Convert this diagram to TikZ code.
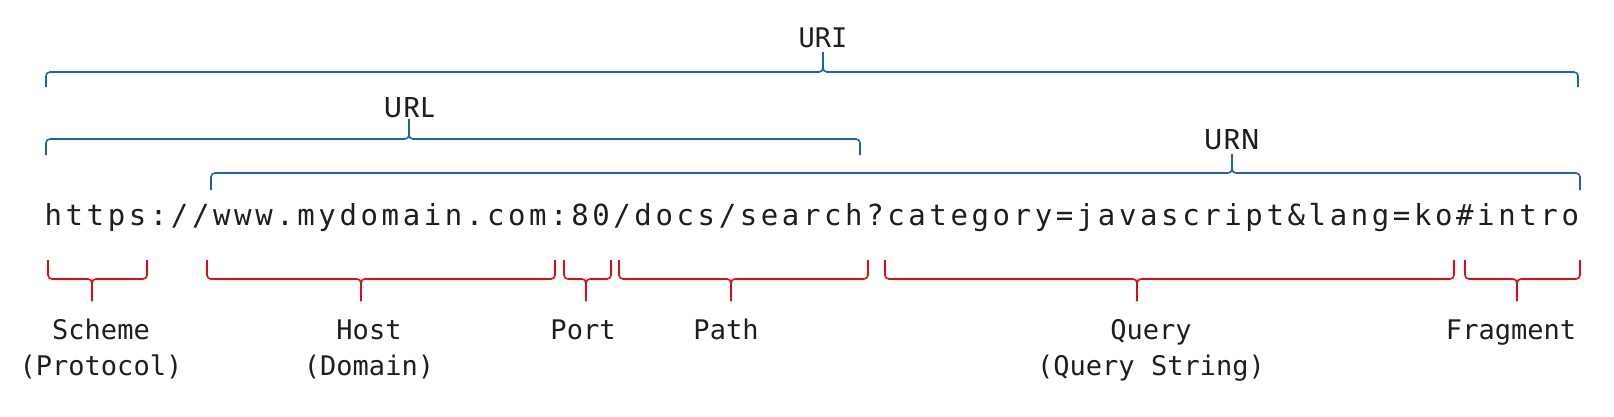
\documentclass[tikz,border=0pt]{standalone}
\usepackage{fontspec}
\usepackage{tikz}
\usetikzlibrary{positioning}
\definecolor{BraceBlue}{HTML}{1A62B8}
\definecolor{BraceRed}{HTML}{E8070A}
\definecolor{InkBlack}{HTML}{1E1E1E}
\newfontfamily\monofont{DejaVu Sans Mono}
\newfontfamily\urlfont[LetterSpace=12.45]{DejaVu Sans Mono}
\newfontfamily\namefont{Fira Sans}
% style, left x, right x, tip x, end y, line y, tip y
\newcommand{\partbrace}[7]{%
  \draw[#1] (#2,#5) |- (#4,#6) -- (#4,#7);
  \draw[#1] (#3,#5) |- (#4,#6) -- (#4,#7);
}

\begin{document}
\begin{tikzpicture}[x=1pt, y=-1pt,
    bluebrace/.style={draw=BraceBlue, line width=1.6pt, rounded corners=4pt},
    redbrace/.style={draw=BraceRed, line width=1.6pt, rounded corners=4pt},
    partname/.style={anchor=base, inner sep=0pt, align=center, text=InkBlack,
      font=\monofont\fontsize{27}{36}\selectfont},
    kindname/.style={anchor=base, inner sep=0pt, text=InkBlack,
      font=\namefont\fontsize{29}{29}\selectfont}]
  \useasboundingbox (0,0) rectangle (1614,416);

  % the address
  \node[anchor=base west, inner sep=0pt, text=InkBlack,
    font=\urlfont\fontsize{29}{29}\selectfont] (link) at (44.4,225)
    {https://www.mydomain.com:80/docs/search?category=javascript\&lang=ko\#intro};

  % blue braces above
  \partbrace{bluebrace}{46}{1578}{823}{87}{72}{52}
  \partbrace{bluebrace}{46}{860}{409}{155}{139}{119}
  \partbrace{bluebrace}{211}{1580}{1232}{190}{173}{154}
  \node[kindname, font=\monofont\fontsize{27}{27}\selectfont] (uri) at (823,47) {URI};
  \node[kindname] (url) at (409,117) {URL};
  \node[kindname] (urn) at (1232,149) {URN};

  % red braces below (two-line names sit on their last line)
  \partbrace{redbrace}{48}{147}{92}{260}{279}{301}
  \partbrace{redbrace}{207}{555}{361}{260}{279}{301}
  \partbrace{redbrace}{564}{611}{586}{260}{279}{301}
  \partbrace{redbrace}{619}{868}{731}{260}{279}{301}
  \partbrace{redbrace}{885}{1454}{1137}{260}{279}{301}
  \partbrace{redbrace}{1465}{1580}{1517}{260}{279}{301}
  \node[partname] (scheme) at (101,375) {Scheme\\(Protocol)};
  \node[partname] (host) at (369,375) {Host\\(Domain)};
  \node[partname] (port) at (583,339) {Port};
  \node[partname] (path) at (726,339) {Path};
  \node[partname] (query) at (1151,375) {Query\\(Query String)};
  \node[partname] (fragment) at (1511,339) {Fragment};
\end{tikzpicture}
\end{document}
